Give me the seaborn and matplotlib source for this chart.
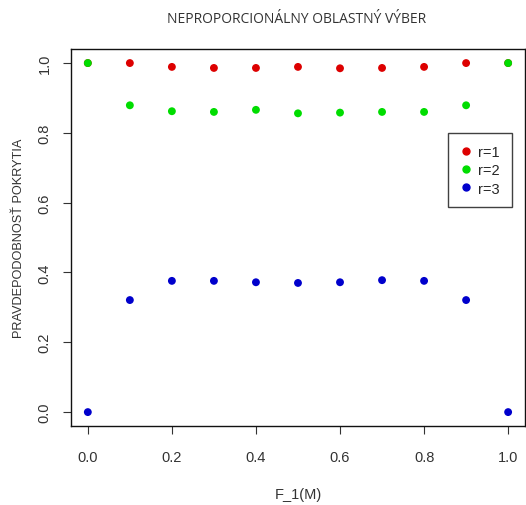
import numpy as np
import pandas as pd
import matplotlib
matplotlib.use("Agg")
import matplotlib.pyplot as plt
import seaborn as sns

# hodnoty odcitane z grafu
f1 = [0.0, 0.1, 0.2, 0.3, 0.4, 0.5, 0.6, 0.7, 0.8, 0.9, 1.0]
r1 = [1.0, 1.0, 0.989, 0.986, 0.986, 0.989, 0.985, 0.986, 0.989, 1.0, 1.0]
r2 = [1.0, 0.879, 0.862, 0.860, 0.866, 0.856, 0.858, 0.860, 0.860, 0.879, 1.0]
r3 = [0.0, 0.321, 0.376, 0.376, 0.372, 0.370, 0.372, 0.378, 0.376, 0.321, 0.0]
labels = ["r=1", "r=2", "r=3"]
colors = ["#dd0000", "#00dd00", "#0000cc"]

df = pd.DataFrame({
    "F_1(M)": f1 * 3,
    "p": r1 + r2 + r3,
    "r": [labels[0]] * len(f1) + [labels[1]] * len(f1) + [labels[2]] * len(f1),
})

sns.set_style("white")
plt.rcParams["font.family"] = ["Liberation Sans", "DejaVu Sans"]

fig = plt.figure(figsize=(5.26, 5.06), dpi=100)
ax = fig.add_axes([0.135, 0.156, 0.863, 0.745])

sns.scatterplot(data=df, x="F_1(M)", y="p", hue="r", palette=colors,
                s=32, linewidth=0, ax=ax, legend=False)

ax.set_xlim(-0.04, 1.04)
ax.set_ylim(-0.04, 1.04)
ticks = np.arange(0, 1.01, 0.2)
ax.set_xticks(ticks)
ax.set_yticks(ticks)
ax.set_xticklabels([f"{v:.1f}" for v in ticks], fontsize=10.5, color="#333333")
ax.set_yticklabels([f"{v:.1f}" for v in ticks], fontsize=10.5, color="#333333",
                   rotation=90, va="center")
ax.tick_params(axis="x", length=6, width=0.8, color="#333333", pad=11, direction="out", bottom=True)
ax.tick_params(axis="y", length=6, width=0.8, color="#333333", pad=8, direction="out", left=True)
for sp in ax.spines.values():
    sp.set_color("#111111")
    sp.set_linewidth(1.0)

ax.set_xlabel("F_1(M)", fontsize=10.5, color="#333333", labelpad=17)
ax.set_ylabel("PRAVDEPODOBNOSŤ POKRYTIA", fontsize=9.2, color="#333333", labelpad=9)
fig.text(0.563, 0.962, "NEPROPORCIONÁLNY OBLASTNÝ VÝBER", ha="center", va="center",
         fontsize=10, color="#333333", family=["Open Sans", "DejaVu Sans"])

handles = [plt.Line2D([], [], marker="o", linestyle="", color=c, markersize=5) for c in colors]
leg = ax.legend(handles, labels, loc="upper left", bbox_to_anchor=(0.83, 0.777),
                frameon=True, fancybox=False, fontsize=10.5, handletextpad=0.4,
                borderpad=0.8, labelspacing=0.3, handlelength=0.9, borderaxespad=0)
leg.get_frame().set_edgecolor("#111111")
leg.get_frame().set_linewidth(1.0)

fig.savefig("out.png", dpi=100)
